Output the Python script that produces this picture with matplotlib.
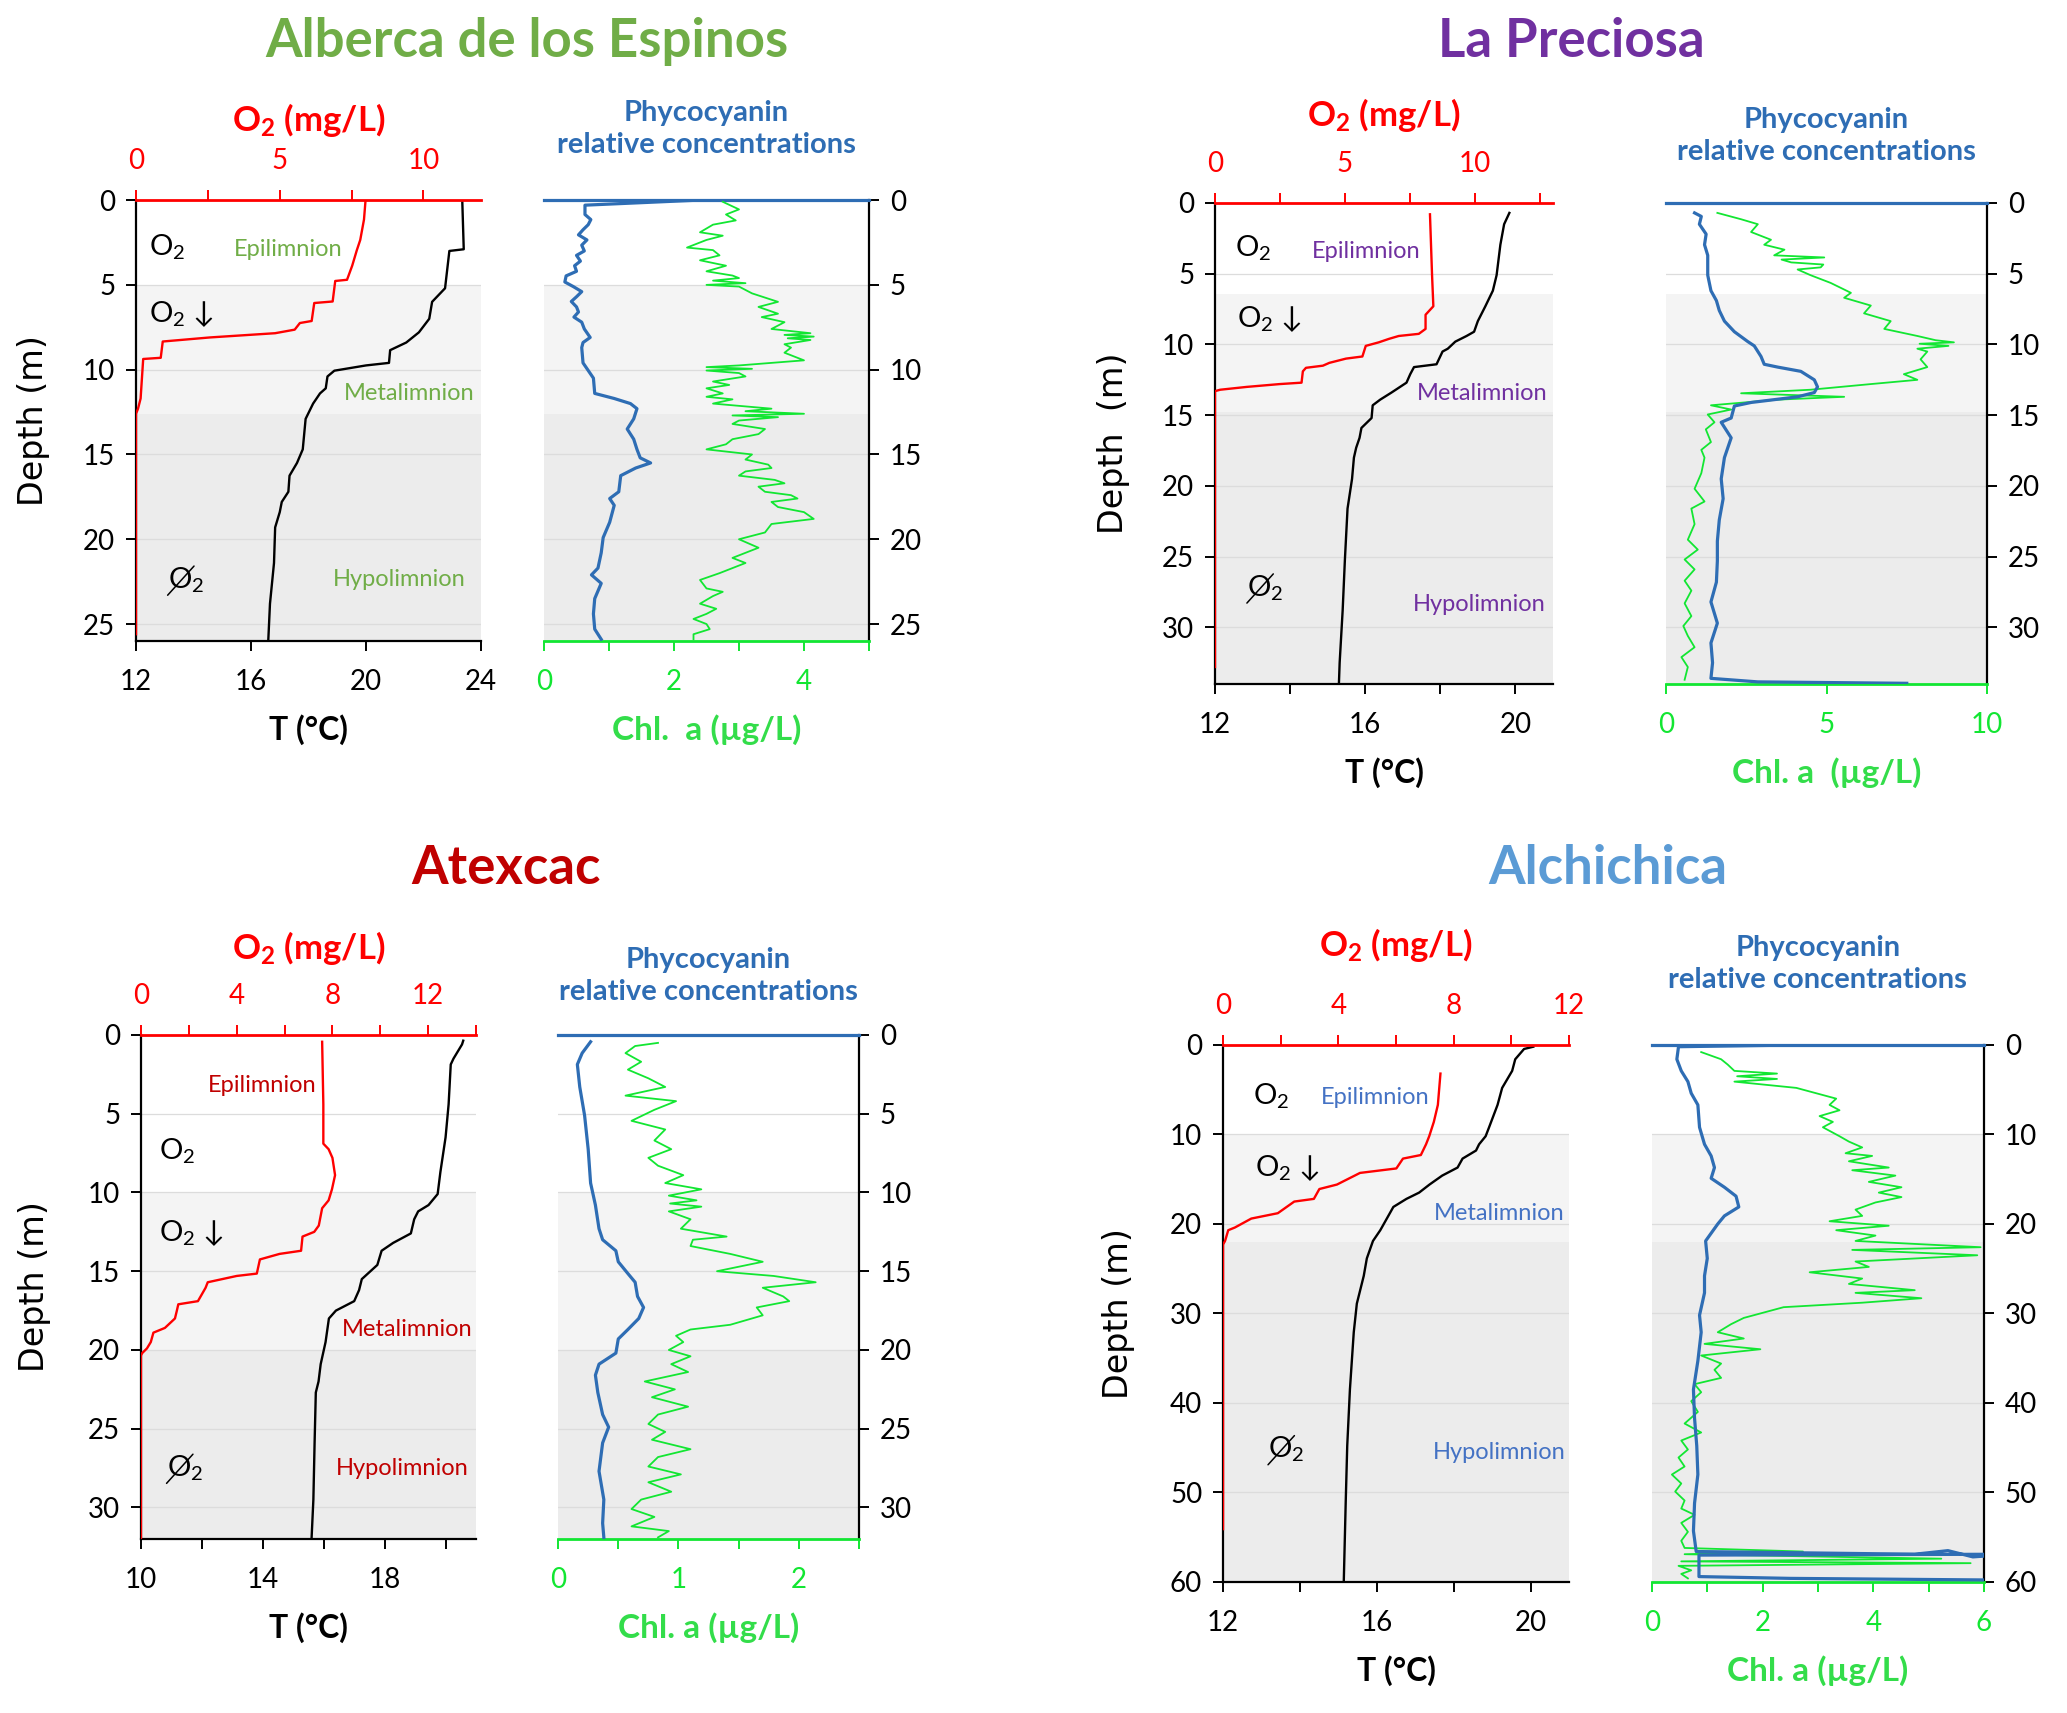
import numpy as np
import matplotlib
matplotlib.use("Agg")
import matplotlib.pyplot as plt
from matplotlib.transforms import offset_copy

plt.rcParams['font.family'] = ['Lato', 'DejaVu Sans']
plt.rcParams['mathtext.fontset'] = 'custom'
plt.rcParams['mathtext.rm'] = 'Lato'
plt.rcParams['mathtext.it'] = 'Lato:italic'
plt.rcParams['mathtext.bf'] = 'Lato:bold'

# ---------------- data (depth m, value) ----------------
# Alberca de los Espinos
esp_temp = [(0.1, 23.35), (2.9, 23.4), (3.0, 22.9), (5.2, 22.75), (6.0, 22.3), (7.0, 22.2), (7.8, 21.84),
            (8.4, 21.4), (8.85, 20.84), (9.6, 20.8), (9.75, 20.0), (10.06, 18.9), (10.4, 18.66), (11.1, 18.6),
            (11.4, 18.4), (12.0, 18.16), (12.9, 17.9), (14.7, 17.8), (15.5, 17.6), (16.25, 17.34), (17.2, 17.3),
            (17.8, 17.07), (18.4, 17.0), (19.3, 16.84), (21.4, 16.8), (23.8, 16.66), (26.0, 16.6)]
esp_o2 = [(0.1, 7.98), (1.15, 7.93), (2.35, 7.8), (2.96, 7.68), (3.87, 7.52), (4.7, 7.34), (4.77, 6.93),
          (5.98, 6.84), (6.07, 6.2), (7.13, 6.11), (7.25, 5.7), (7.64, 5.52), (7.85, 4.84), (7.95, 3.93),
          (8.1, 2.57), (8.34, 0.93), (9.3, 0.86), (9.37, 0.25), (11.7, 0.16), (12.3, 0.07), (12.6, 0.0),
          (25.6, 0.0)]
esp_pc = [(0.0, 2.4), (0.3, 0.63), (0.85, 0.63), (1.15, 0.72), (1.45, 0.68), (1.75, 0.6), (2.05, 0.53),
          (2.35, 0.66), (2.66, 0.58), (3.0, 0.62), (3.26, 0.5), (3.6, 0.56), (3.87, 0.47), (4.2, 0.5),
          (4.47, 0.34), (4.83, 0.32), (5.1, 0.45), (5.4, 0.58), (5.7, 0.5), (5.98, 0.42), (6.3, 0.5),
          (6.6, 0.53), (6.9, 0.46), (7.2, 0.58), (7.6, 0.62), (8.1, 0.71), (8.4, 0.6), (8.7, 0.58),
          (9.6, 0.6), (10.5, 0.76), (11.4, 0.78), (11.7, 1.08), (12.0, 1.33), (12.3, 1.43), (12.9, 1.38),
          (13.5, 1.28), (14.1, 1.38), (14.7, 1.43), (15.2, 1.48), (15.5, 1.64), (15.8, 1.41), (16.25, 1.18),
          (17.2, 1.15), (17.6, 1.01), (18.0, 1.08), (19.0, 1.01), (19.9, 0.91), (20.8, 0.88), (21.7, 0.83),
          (22.1, 0.73), (22.6, 0.88), (23.5, 0.78), (24.4, 0.76), (25.3, 0.78), (25.9, 0.88)]
esp_chl = [(0.1, 2.75), (0.55, 3.0), (0.85, 2.8), (1.2, 2.95), (1.45, 2.6), (1.9, 2.4), (2.1, 2.75),
           (2.35, 2.5), (2.8, 2.2), (2.95, 2.6), (3.26, 2.7), (3.55, 2.4), (3.87, 2.8), (4.2, 2.5),
           (4.45, 2.9), (4.6, 3.0), (4.75, 2.6), (4.9, 3.1), (5.0, 2.5), (5.1, 3.0), (5.5, 3.2), (6.0, 3.6),
           (6.3, 3.3), (6.7, 3.6), (6.9, 3.35), (7.2, 3.7), (7.6, 3.5), (7.85, 4.1), (7.95, 3.7),
           (8.05, 4.15), (8.15, 3.75), (8.25, 4.1), (8.5, 3.7), (8.7, 3.8), (9.0, 3.7), (9.45, 4.0),
           (9.75, 3.0), (9.85, 2.5), (9.95, 3.2), (10.05, 2.5), (10.2, 3.0), (10.4, 3.1), (10.7, 2.6),
           (10.9, 2.85), (11.1, 2.5), (11.4, 2.75), (11.6, 2.5), (11.75, 2.9), (12.0, 2.6), (12.3, 3.5),
           (12.45, 3.1), (12.6, 4.0), (12.7, 2.9), (12.8, 3.6), (13.0, 3.0), (13.2, 2.9), (13.5, 3.4),
           (13.8, 3.3), (14.1, 2.9), (14.4, 2.8), (14.7, 2.5), (15.0, 3.2), (15.3, 3.1), (15.6, 3.45),
           (15.8, 3.5), (16.0, 3.1), (16.25, 3.0), (16.5, 3.55), (16.7, 3.7), (16.9, 3.3), (17.2, 3.4),
           (17.4, 3.8), (17.6, 3.9), (17.8, 3.5), (18.1, 3.6), (18.4, 4.0), (18.8, 4.15), (19.1, 3.5),
           (19.6, 3.4), (20.0, 3.0), (20.5, 3.3), (21.1, 2.9), (21.4, 3.1), (22.0, 2.7), (22.4, 2.4),
           (22.9, 2.5), (23.1, 2.75), (23.35, 2.6), (23.8, 2.4), (24.1, 2.65), (24.4, 2.5), (24.7, 2.3),
           (25.0, 2.5), (25.3, 2.55), (25.6, 2.3), (25.9, 2.3)]

# La Preciosa
pre_temp = [(0.7, 19.84), (1.5, 19.7), (2.95, 19.6), (5.1, 19.5), (6.2, 19.4), (7.3, 19.2), (8.35, 19.0),
            (9.1, 18.9), (9.4, 18.7), (9.8, 18.4), (10.3, 18.2), (10.5, 18.06), (11.4, 17.9), (11.6, 17.3),
            (12.1, 17.2), (12.7, 17.1), (13.4, 16.7), (13.9, 16.4), (14.3, 16.2), (15.2, 16.17), (15.9, 15.9),
            (16.6, 15.85), (17.3, 15.76), (18.0, 15.7), (19.5, 15.65), (21.6, 15.53), (25.2, 15.46),
            (28.8, 15.4), (32.5, 15.32), (34.0, 15.3)]
pre_o2 = [(0.8, 8.27), (5.1, 8.35), (7.3, 8.4), (7.9, 8.1), (8.9, 8.1), (9.25, 7.84), (9.4, 7.07), (9.6, 6.7),
          (9.85, 6.3), (10.1, 5.8), (10.85, 5.67), (11.0, 5.04), (11.3, 4.4), (11.5, 4.15), (11.65, 3.5),
          (11.9, 3.38), (12.7, 3.33), (12.8, 2.49), (13.0, 1.22), (13.2, 0.2), (13.3, 0.0), (32.8, 0.0)]
pre_pc = [(0.7, 0.89), (0.95, 1.1), (1.5, 1.04), (2.2, 1.25), (2.95, 1.2), (3.7, 1.3), (5.1, 1.3), (6.2, 1.4),
          (6.9, 1.57), (7.6, 1.66), (8.35, 1.82), (9.1, 2.13), (9.8, 2.55), (10.1, 2.75), (10.85, 2.96),
          (11.4, 3.06), (11.6, 3.48), (11.9, 4.2), (12.5, 4.62), (13.0, 4.72), (13.4, 4.62), (13.7, 4.1),
          (14.1, 2.65), (14.35, 2.13), (15.2, 2.03), (15.5, 1.72), (16.6, 2.03), (18.0, 1.82), (19.5, 1.72),
          (20.9, 1.78), (22.4, 1.66), (23.9, 1.6), (25.3, 1.6), (26.8, 1.57), (28.2, 1.4), (29.7, 1.6),
          (31.1, 1.4), (32.5, 1.45), (33.6, 1.4), (33.85, 2.86), (33.95, 7.5)]
pre_chl = [(0.7, 1.6), (1.15, 2.34), (1.5, 2.86), (2.05, 2.65), (2.6, 3.27), (2.95, 3.06), (3.3, 3.69),
           (3.7, 3.37), (3.85, 4.93), (4.0, 3.6), (4.2, 3.9), (4.35, 4.9), (4.55, 4.82), (4.7, 4.1),
           (5.1, 4.5), (5.65, 5.13), (6.35, 5.76), (6.7, 5.55), (7.25, 6.38), (7.8, 6.17), (8.35, 7.0),
           (8.9, 6.8), (9.4, 7.83), (9.7, 8.4), (9.85, 8.97), (9.95, 7.9), (10.1, 8.8), (10.3, 7.83),
           (10.5, 8.14), (11.05, 7.93), (11.6, 8.14), (12.1, 7.41), (12.5, 7.83), (12.8, 6.38), (13.2, 4.5),
           (13.45, 2.34), (13.7, 5.55), (13.9, 3.48), (14.3, 1.4), (14.6, 2.03), (14.95, 1.3), (15.5, 1.51),
           (16.0, 1.24), (16.9, 1.4), (17.45, 1.1), (18.0, 1.2), (19.1, 1.1), (20.2, 0.89), (21.1, 1.2),
           (21.6, 0.79), (22.7, 0.89), (23.8, 0.68), (24.5, 0.99), (25.2, 0.58), (25.9, 0.89), (26.7, 0.58),
           (27.4, 0.79), (28.3, 0.58), (29.2, 0.79), (29.9, 0.54), (30.6, 0.68), (31.4, 0.89), (32.1, 0.48),
           (32.8, 0.68), (33.7, 0.58)]

# Atexcac
atx_temp = [(0.36, 20.58), (0.6, 20.54), (1.5, 20.26), (1.87, 20.17), (4.4, 20.1), (6.5, 20.0), (8.7, 19.83),
            (10.1, 19.74), (10.8, 19.44), (11.2, 19.1), (11.7, 18.97), (12.6, 18.86), (13.2, 18.28),
            (13.7, 17.9), (14.6, 17.76), (15.5, 17.25), (16.2, 17.16), (16.9, 17.0), (17.5, 16.4),
            (18.0, 16.17), (19.5, 16.06), (20.9, 15.9), (22.0, 15.83), (22.7, 15.74), (25.9, 15.7),
            (29.5, 15.66), (32.0, 15.6)]
atx_o2 = [(0.43, 7.57), (4.4, 7.62), (6.9, 7.62), (7.25, 7.84), (7.8, 8.0), (8.9, 8.11), (9.8, 7.98),
          (10.5, 7.84), (11.0, 7.57), (12.1, 7.43), (12.5, 7.24), (12.8, 6.75), (13.7, 6.69), (13.9, 5.79),
          (14.25, 4.97), (15.15, 4.84), (15.3, 4.0), (15.7, 2.79), (16.05, 2.7), (16.9, 2.38), (17.1, 1.56),
          (17.5, 1.5), (18.0, 1.42), (18.6, 1.0), (18.9, 0.52), (19.5, 0.41), (19.9, 0.25), (20.2, 0.05),
          (20.35, 0.0), (32.0, 0.0)]
atx_pc = [(0.43, 0.27), (1.15, 0.2), (1.87, 0.16), (3.3, 0.18), (5.1, 0.22), (7.25, 0.25), (9.4, 0.27),
          (10.8, 0.31), (12.3, 0.34), (13.0, 0.37), (13.7, 0.48), (14.4, 0.5), (15.15, 0.58), (15.7, 0.64),
          (16.6, 0.66), (17.3, 0.71), (18.0, 0.67), (18.7, 0.58), (19.3, 0.5), (20.2, 0.48), (20.9, 0.34),
          (21.6, 0.31), (22.7, 0.33), (24.1, 0.37), (24.9, 0.42), (25.9, 0.37), (27.7, 0.34), (29.5, 0.38),
          (31.0, 0.37), (31.9, 0.38)]
atx_chl = [(0.5, 0.83), (0.7, 0.64), (1.15, 0.56), (1.7, 0.69), (2.2, 0.58), (2.75, 0.75), (3.3, 0.89),
           (3.85, 0.56), (4.2, 0.98), (4.75, 0.8), (5.45, 0.61), (6.0, 0.89), (6.7, 0.8), (7.25, 0.94),
           (7.8, 0.75), (8.3, 0.83), (8.9, 1.04), (9.4, 0.89), (9.8, 1.19), (10.2, 0.92), (10.5, 1.15),
           (10.7, 0.93), (10.9, 1.19), (11.2, 0.92), (11.7, 1.1), (12.3, 1.02), (12.8, 1.4), (13.0, 1.12),
           (13.4, 1.1), (13.9, 1.43), (14.4, 1.7), (15.0, 1.32), (15.3, 1.79), (15.7, 2.14), (16.05, 1.7),
           (16.6, 1.87), (16.9, 1.92), (17.3, 1.65), (17.8, 1.7), (18.4, 1.43), (18.7, 1.1), (19.1, 0.98),
           (19.5, 1.04), (20.0, 0.92), (20.4, 1.1), (20.9, 0.94), (21.4, 1.08), (22.0, 0.72), (22.5, 0.97),
           (23.0, 0.78), (23.6, 1.08), (24.1, 0.83), (24.7, 0.75), (25.2, 0.89), (25.7, 0.78), (26.3, 1.1),
           (26.8, 0.83), (27.4, 0.75), (27.9, 1.02), (28.4, 0.75), (29.0, 0.94), (29.5, 0.69), (30.1, 0.61),
           (30.6, 0.8), (31.2, 0.61), (31.5, 0.92), (31.9, 0.83)]

# Alchichica
alc_temp = [(0.2, 20.07), (0.45, 19.83), (1.6, 19.6), (2.9, 19.52), (4.8, 19.26), (6.7, 19.14), (9.2, 18.92),
            (10.2, 18.83), (11.1, 18.66), (11.8, 18.58), (12.7, 18.23), (13.7, 18.1), (14.6, 17.7),
            (15.6, 17.37), (16.5, 17.1), (17.2, 16.77), (18.1, 16.43), (19.4, 16.26), (20.7, 16.09),
            (21.9, 15.9), (23.85, 15.74), (25.8, 15.66), (28.9, 15.48), (32.1, 15.4), (38.5, 15.3),
            (44.8, 15.23), (51.2, 15.19), (60.0, 15.14)]
alc_o2 = [(3.2, 7.54), (6.7, 7.45), (8.6, 7.31), (10.2, 7.15), (11.1, 7.04), (12.3, 6.86), (12.7, 6.24),
          (13.8, 6.01), (14.3, 4.75), (15.6, 3.95), (16.1, 3.34), (17.2, 3.15), (17.5, 2.47), (18.8, 1.9),
          (19.4, 0.98), (20.4, 0.41), (20.7, 0.18), (21.9, 0.07), (22.3, 0.0), (54.1, 0.0)]
alc_pc = [(0.0, 2.7), (0.2, 0.48), (1.6, 0.45), (2.9, 0.53), (4.1, 0.65), (5.4, 0.71), (6.7, 0.83), (9.2, 0.86),
          (11.1, 0.95), (12.4, 1.07), (13.7, 1.13), (14.9, 1.07), (15.9, 1.31), (16.9, 1.52), (18.1, 1.57),
          (19.1, 1.31), (20.0, 1.19), (21.9, 0.97), (23.85, 1.0), (25.8, 0.95), (27.7, 0.95), (30.2, 0.86),
          (32.1, 0.89), (35.3, 0.83), (38.5, 0.75), (41.7, 0.77), (44.8, 0.81), (48.0, 0.83), (51.2, 0.77),
          (54.3, 0.75), (56.6, 0.8), (56.9, 4.75), (56.5, 5.35), (57.2, 5.8), (56.9, 6.5), (57.0, 0.85),
          (59.4, 0.85), (59.6, 2.5), (59.8, 6.5)]
alc_chl = [(0.8, 0.89), (1.6, 1.25), (2.2, 1.37), (2.9, 1.49), (3.2, 2.26), (3.5, 1.54), (3.8, 2.26), (4.1, 1.49),
           (4.8, 2.61), (5.4, 2.97), (6.0, 3.33), (6.7, 3.21), (7.3, 3.39), (7.95, 3.03), (8.6, 3.27),
           (9.2, 3.09), (10.2, 3.39), (10.8, 3.56), (11.45, 3.8), (12.1, 3.5), (12.4, 3.98), (13.0, 3.56),
           (13.7, 4.28), (14.0, 3.62), (14.6, 4.4), (15.3, 3.92), (15.9, 4.51), (16.5, 4.1), (17.0, 4.51),
           (17.6, 4.04), (18.4, 3.68), (19.1, 3.8), (19.7, 3.21), (20.2, 4.28), (20.7, 3.33), (21.3, 4.04),
           (21.9, 3.68), (22.6, 5.94), (22.9, 3.62), (23.5, 5.88), (24.2, 3.68), (24.8, 3.92), (25.4, 2.85),
           (26.1, 3.8), (26.7, 3.56), (27.4, 4.75), (27.7, 3.68), (28.3, 4.87), (28.8, 3.8), (29.3, 2.38),
           (29.9, 2.02), (30.5, 1.66), (31.2, 1.43), (32.1, 1.19), (32.8, 1.66), (33.4, 0.95), (34.0, 1.96),
           (34.7, 0.89), (35.6, 1.25), (36.3, 1.13), (37.2, 1.25), (37.9, 0.77), (38.8, 0.89), (39.8, 0.71),
           (41.0, 0.83), (42.3, 0.59), (43.3, 0.89), (44.2, 0.53), (45.2, 0.65), (46.1, 0.48), (47.1, 0.59),
           (48.0, 0.36), (49.0, 0.53), (49.9, 0.42), (50.9, 0.59), (51.8, 0.53), (52.5, 0.77), (53.4, 0.53),
           (54.4, 0.65), (55.4, 0.53), (56.2, 0.59), (56.6, 2.73), (56.9, 0.59), (57.4, 5.23), (57.7, 0.53),
           (57.9, 5.76), (58.2, 0.48), (58.7, 0.71), (59.1, 0.53), (59.6, 0.65)]

# ---------------- style ----------------
RED = '#FF0000'
PC_BLUE = '#2E6DB4'
CHL_GREEN = '#12E632'
CHL_TEXT = '#33DD4A'
META = '#F4F4F4'
HYPO = '#ECECEC'
GRID = '#DCDCDC'
TICK_FS = 20

lakes = [
    dict(title='Alberca de los Espinos', tcolor='#70AD47', lcolor='#70AD47', tpos=(0.255, 0.976),
         left=[0.0658, 0.6258, 0.1669, 0.2574], right=[0.2632, 0.6258, 0.1572, 0.2574],
         dmax=26, dstep=5, meta=(5, 12.6),
         temp=esp_temp, o2=esp_o2, pc=esp_pc, chl=esp_chl,
         tlim=(12, 24), tticks=[12, 16, 20, 24], tlab=[12, 16, 20, 24],
         olim=(0, 12), oticks=[0, 2.5, 5, 7.5, 10], olab=[0, 5, 10],
         clim=(0, 5), cticks=[0, 1, 2, 3, 4, 5], clab=[0, 2, 4],
         o2txt=(12.45, 2.8), o2down=(12.45, 6.7), noo2=(13.1, 22.4),
         epi=(17.3, 2.9), met=(21.5, 11.4), hyp=(21.15, 22.4),
         depth='Depth (m)', chllab='Chl.  a (µg/L)', pcpad=34, o2pad=12, ylx=-0.25),
    dict(title='La Preciosa', tcolor='#7030A0', lcolor='#7030A0', tpos=(0.760, 0.976),
         left=[0.5878, 0.6007, 0.1635, 0.2808], right=[0.806, 0.6007, 0.1553, 0.2808],
         dmax=34, dstep=5, meta=(6.4, 14.75),
         temp=pre_temp, o2=pre_o2, pc=pre_pc, chl=pre_chl,
         tlim=(12, 21), tticks=[12, 14, 16, 18, 20], tlab=[12, 16, 20],
         olim=(0, 13), oticks=[0, 2.5, 5, 7.5, 10, 12.5], olab=[0, 5, 10],
         clim=(0, 10), cticks=[0, 5, 10], clab=[0, 5, 10],
         o2txt=(12.53, 3.2), o2down=(12.58, 8.2), noo2=(12.85, 27.2),
         epi=(16.03, 3.4), met=(19.12, 13.5), hyp=(19.03, 28.4),
         depth='Depth  (m)', chllab='Chl. a  (µg/L)', pcpad=31, o2pad=18, ylx=-0.25),
    dict(title='Atexcac', tcolor='#C00000', lcolor='#C00000', tpos=(0.245, 0.493),
         left=[0.0682, 0.1016, 0.1621, 0.2942], right=[0.27, 0.1016, 0.1456, 0.2942],
         dmax=32, dstep=5, meta=(10, 20),
         temp=atx_temp, o2=atx_o2, pc=atx_pc, chl=atx_chl,
         tlim=(10, 21), tticks=[10, 12, 14, 16, 18, 20], tlab=[10, 14, 18],
         olim=(0, 14), oticks=[0, 2, 4, 6, 8, 10, 12, 14], olab=[0, 4, 8, 12],
         clim=(0, 2.5), cticks=[0, 0.5, 1, 1.5, 2, 2.5], clab=[0, 1, 2],
         o2txt=(10.58, 7.4), o2down=(10.58, 12.6), noo2=(10.84, 27.5),
         epi=(13.98, 3.2), met=(18.75, 18.7), hyp=(18.58, 27.5),
         depth='Depth (m)', chllab='Chl. a (µg/L)', pcpad=25, o2pad=17, ylx=-0.27),
    dict(title='Alchichica', tcolor='#5B9BD5', lcolor='#4472C4', tpos=(0.778, 0.493),
         left=[0.5917, 0.0765, 0.1674, 0.3135], right=[0.7992, 0.0765, 0.1606, 0.3135],
         dmax=60, dstep=10, meta=(10, 22),
         temp=alc_temp, o2=alc_o2, pc=alc_pc, chl=alc_chl,
         tlim=(12, 21), tticks=[12, 14, 16, 18, 20], tlab=[12, 16, 20],
         olim=(0, 12), oticks=[0, 2, 4, 6, 8, 10, 12], olab=[0, 4, 8, 12],
         clim=(0, 6), cticks=[0, 1, 2, 3, 4, 5, 6], clab=[0, 2, 4, 6],
         o2txt=(12.79, 5.7), o2down=(12.82, 13.7), noo2=(13.17, 45.2),
         epi=(15.95, 5.85), met=(19.18, 18.8), hyp=(19.18, 45.5),
         depth='Depth (m)', chllab='Chl. a (µg/L)', pcpad=41, o2pad=26, ylx=-0.255),
]


def fmt(v):
    return ('%g' % v)


def tick_labels(ticks, labelled):
    return [fmt(t) if t in labelled else '' for t in ticks]


fig = plt.figure(figsize=(20.67, 17.13), dpi=100)

for lk in lakes:
    ax = fig.add_axes(lk['left'])
    axo = ax.twiny()
    axc = fig.add_axes(lk['right'])
    dmax = lk['dmax']
    yt = np.arange(0, dmax + 0.01, lk['dstep'])

    for a in (ax, axc):
        a.axhspan(lk['meta'][0], lk['meta'][1], color=META, lw=0, zorder=0)
        a.axhspan(lk['meta'][1], dmax, color=HYPO, lw=0, zorder=0)
        a.set_yticks(yt)
        a.set_ylim(dmax, 0)
        a.set_axisbelow(True)
        a.yaxis.grid(True, color=GRID, lw=0.9)
        a.tick_params(axis='y', direction='out', length=7, width=1.4, labelsize=TICK_FS, pad=8)

    # temperature / oxygen panel
    td, tv = np.array(lk['temp']).T
    od, ov = np.array(lk['o2']).T
    ax.plot(tv, td, color='black', lw=1.7, zorder=3)
    axo.plot(ov, od, color=RED, lw=1.7, zorder=3)
    ax.set_xlim(*lk['tlim'])
    axo.set_xlim(*lk['olim'])

    ax.set_xticks(lk['tticks'])
    ax.set_xticklabels(tick_labels(lk['tticks'], lk['tlab']))
    ax.tick_params(axis='x', direction='out', length=7, width=1.4, labelsize=TICK_FS, pad=13)
    ax.set_xlabel('T (°C)', fontsize=23, fontweight='bold', labelpad=14)
    ax.set_ylabel(lk['depth'], fontsize=24, family=['DejaVu Sans'])
    ax.yaxis.set_label_coords(lk['ylx'], 0.5)
    for s in ('top', 'right'):
        ax.spines[s].set_visible(False)
    for s in ('left', 'bottom'):
        ax.spines[s].set_linewidth(1.6)

    axo.set_xticks(lk['oticks'])
    axo.set_xticklabels(tick_labels(lk['oticks'], lk['olab']))
    axo.tick_params(axis='x', colors=RED, direction='out', length=7, width=1.4, labelsize=TICK_FS, pad=12)
    axo.set_xlabel(r'$\mathbf{O_2}$ (mg/L)', color=RED, fontsize=25, fontweight='bold',
                   labelpad=lk['o2pad'])
    for s in ('bottom', 'left', 'right'):
        axo.spines[s].set_visible(False)
    axo.spines['top'].set_color(RED)
    axo.spines['top'].set_linewidth(2.0)

    # annotations
    lc = lk['lcolor']
    ax.text(lk['epi'][0], lk['epi'][1], 'Epilimnion', color=lc, fontsize=17, ha='center', va='center', zorder=4)
    ax.text(lk['met'][0], lk['met'][1], 'Metalimnion', color=lc, fontsize=17, ha='center', va='center', zorder=4)
    ax.text(lk['hyp'][0], lk['hyp'][1], 'Hypolimnion', color=lc, fontsize=17, ha='center', va='center', zorder=4)
    ax.text(lk['o2txt'][0], lk['o2txt'][1], 'O$_2$', fontsize=21, ha='left', va='center', zorder=4)
    ax.text(lk['o2down'][0], lk['o2down'][1], 'O$_2$ \u2193', fontsize=21, ha='left', va='center', zorder=4)
    ax.text(lk['noo2'][0], lk['noo2'][1], 'O$_2$', fontsize=21, ha='left', va='center', zorder=4)
    # strike through the anoxic O2
    start = offset_copy(ax.transData, fig=fig, x=0, y=-11, units='points')
    ax.annotate('', xy=lk['noo2'], xycoords=start, xytext=(19, 21), textcoords='offset points',
                arrowprops=dict(arrowstyle='-', color='black', lw=1.1, shrinkA=0, shrinkB=0))

    # pigments panel
    pd_, pv = np.array(lk['pc']).T
    cd, cv = np.array(lk['chl']).T
    axc.plot(cv, cd, color=CHL_GREEN, lw=1.3, zorder=3)
    axc.plot(pv, pd_, color=PC_BLUE, lw=2.3, zorder=4)
    axc.set_xlim(*lk['clim'])
    axc.set_xticks(lk['cticks'])
    axc.set_xticklabels(tick_labels(lk['cticks'], lk['clab']))
    axc.tick_params(axis='x', colors=CHL_GREEN, labelcolor=CHL_GREEN, direction='out', length=7,
                    width=1.4, labelsize=TICK_FS, pad=13)
    axc.yaxis.tick_right()
    axc.set_xlabel(lk['chllab'], color=CHL_TEXT, fontsize=24, fontweight='bold', labelpad=14)
    axc.spines['left'].set_visible(False)
    axc.spines['top'].set_color(PC_BLUE)
    axc.spines['top'].set_linewidth(2.3)
    axc.spines['bottom'].set_color(CHL_GREEN)
    axc.spines['bottom'].set_linewidth(2.0)
    axc.spines['right'].set_linewidth(1.6)
    axc.set_title('Phycocyanin\nrelative concentrations', color=PC_BLUE, fontsize=21,
                  fontweight='bold', pad=lk['pcpad'], linespacing=1.3)

    fig.text(lk['tpos'][0], lk['tpos'][1], lk['title'], color=lk['tcolor'], fontsize=38,
             fontweight='bold', ha='center', va='center')

fig.savefig('out.png', dpi=100)
